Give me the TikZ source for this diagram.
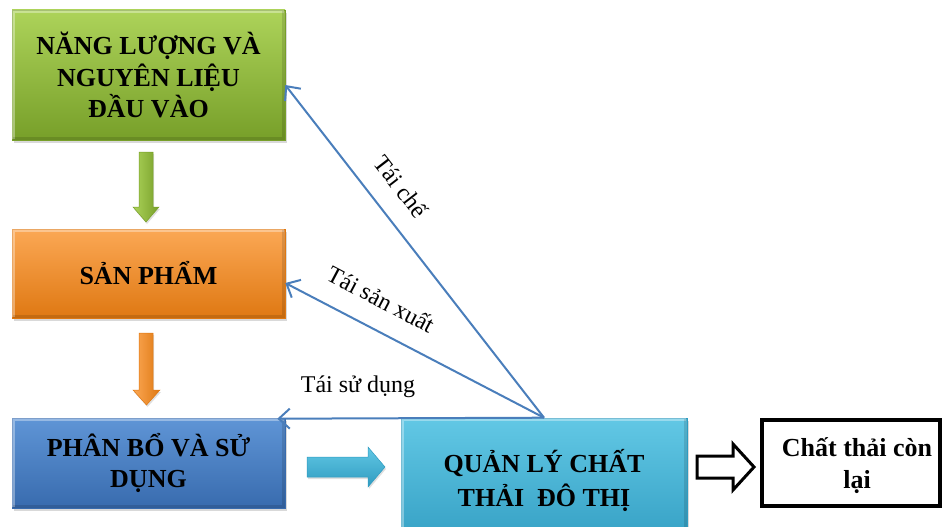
\documentclass[tikz,border=0pt]{standalone}
\usepackage{fontspec}
\setmainfont{Liberation Serif}
\usetikzlibrary{arrows.meta,shadows,calc}

\definecolor{grnTop}{HTML}{ADD35A}
\definecolor{grnMid}{HTML}{94C23C}
\definecolor{grnBot}{HTML}{779F29}
\definecolor{orgTop}{HTML}{FBA855}
\definecolor{orgMid}{HTML}{F7922E}
\definecolor{orgBot}{HTML}{DF7812}
\definecolor{bluTop}{HTML}{5F95D6}
\definecolor{bluMid}{HTML}{4A82C8}
\definecolor{bluBot}{HTML}{386BAE}
\definecolor{cyaTop}{HTML}{62C8E5}
\definecolor{cyaMid}{HTML}{44B6D9}
\definecolor{cyaBot}{HTML}{2F9BC0}
\definecolor{linkBlue}{HTML}{4A7EBB}

% Light rim on the top/left and a darker rim on the bottom/right of a box
\newcommand\boxbevel[1]{%
  \draw[white, opacity=0.35, line width=3pt]
    ([xshift=1.5pt,yshift=1.5pt]#1.south west) -- ([xshift=1.5pt,yshift=-1.5pt]#1.north west)
    -- ([xshift=-1.5pt,yshift=-1.5pt]#1.north east);
  \draw[black, opacity=0.12, line width=3pt]
    ([xshift=-1.5pt,yshift=-1.5pt]#1.north east) -- ([xshift=-1.5pt,yshift=1.5pt]#1.south east)
    -- ([xshift=1.5pt,yshift=1.5pt]#1.south west);
}

\begin{document}
\begin{tikzpicture}[x=1pt,y=-1pt,
  box/.style n args={3}{rectangle, inner sep=0pt, minimum width=273pt,
    top color=#1, middle color=#2, bottom color=#3,
    draw=#3, line width=0.6pt,
    drop shadow={opacity=0.3, shadow xshift=1.5pt, shadow yshift=-3pt}},
  boxtext/.style={font=\bfseries\fontsize{26}{31.5}\selectfont, align=center, text=black},
  link/.style={draw=linkBlue, line width=2pt,
    -{Straight Barb[length=11pt,width=20pt]}},
  lbl/.style={font=\fontsize{24}{28}\selectfont, inner sep=0pt},
  blockarrow/.style n args={2}{left color=#1, right color=#2, draw=#2, line width=0.5pt,
    drop shadow={opacity=0.25, shadow xshift=1pt, shadow yshift=-2pt}}
]
\useasboundingbox (0,0) rectangle (945,527);
\clip (0,0) rectangle (945,527);

% Flow boxes
\node[box={grnTop}{grnMid}{grnBot}, minimum height=130pt, boxtext] (nl) at (148.5,75)
  {NĂNG LƯỢNG VÀ\\NGUYÊN LIỆU\\ĐẦU VÀO};
\boxbevel{nl}
\node[box={orgTop}{orgMid}{orgBot}, minimum height=89pt, boxtext] (sp) at (148.5,273.5)
  {SẢN PHẨM};
\boxbevel{sp}
\node[box={bluTop}{bluMid}{bluBot}, minimum height=90pt, boxtext] (pb) at (148.5,463)
  {PHÂN BỔ VÀ SỬ\\DỤNG};
\boxbevel{pb}
\node[box={cyaTop}{cyaMid}{cyaBot}, minimum width=286pt, minimum height=140pt] (ql) at (544,488) {};
\boxbevel{ql}
\node[boxtext, font=\bfseries\fontsize{26}{34}\selectfont] (qltext) at (544,480)
  {QUẢN LÝ CHẤT\\THẢI\ \ ĐÔ THỊ};

% Remaining waste box
\node[draw=black, line width=4pt, fill=white, minimum width=178pt, minimum height=86pt,
  inner sep=0pt] (ct) at (851,463) {};
\node[boxtext, font=\bfseries\fontsize{26}{32}\selectfont] (cttext) at (857,466)
  {Chất thải còn\\lại};

% Block arrows between stages
\path[blockarrow={grnTop}{grnBot}]
  (139,152) -- (153,152) -- (153,207) -- (159,207) -- (146,222) -- (133,207) -- (139,207) -- cycle;
\path[blockarrow={orgTop}{orgBot}]
  (139,333) -- (153,333) -- (153,390) -- (160,390) -- (146.5,405) -- (133,390) -- (139,390) -- cycle;
\path[blockarrow={cyaTop}{cyaBot}, top color=cyaTop, middle color=cyaMid, bottom color=cyaBot]
  (307,457) -- (368,457) -- (368,447) -- (385,467) -- (368,487) -- (368,477) -- (307,477) -- cycle;
\draw[black, line width=3pt, fill=white, line join=miter]
  (697,456) -- (733,456) -- (733,444) -- (754,467) -- (733,490) -- (733,478) -- (697,478) -- cycle;

% Feedback links from waste management
\draw[link] (ql.north) -- ([yshift=-10pt]nl.east);
\draw[link] (ql.north) -- ([yshift=-9.5pt]sp.east);
\draw[link] (ql.north) -- ([xshift=-8pt,yshift=-1pt]pb.north east);

\node[lbl, rotate=-52.3] (lche) at (401,186) {Tái chế};
\node[lbl, rotate=-27.8] (lsx) at (381,299) {Tái sản xuất};
\node[lbl] (lsd) at (358,387) {Tái sử dụng};
\end{tikzpicture}
\end{document}
